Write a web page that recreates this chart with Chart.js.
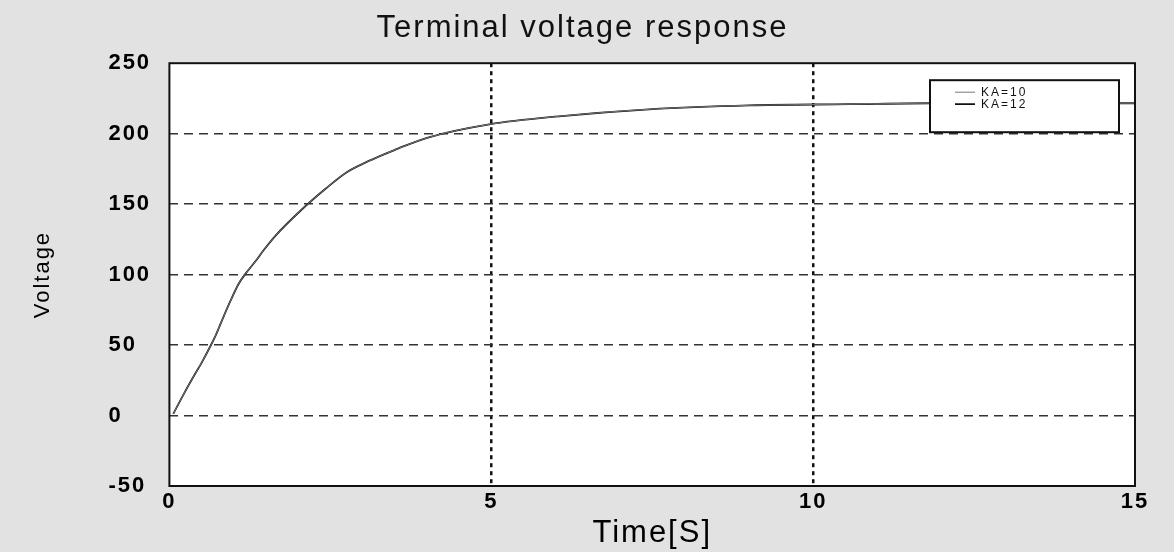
<!DOCTYPE html>
<html>
<head>
<meta charset="utf-8">
<script src="https://cdn.jsdelivr.net/npm/chart.js@4"></script>
<style>
html,body{margin:0;padding:0;background:#e2e2e2;}
canvas{display:block;}
</style>
</head>
<body>
<canvas id="c" width="1174" height="552"></canvas>
<script>
// ---- data ----
const chartTitle = 'Terminal voltage response';
const xAxisTitle = 'Time[S]';
const yAxisTitle = 'Voltage';
const seriesNames = ['KA=10', 'KA=12'];
const xTicks = [0, 5, 10, 15];
const yTicks = [-50, 0, 50, 100, 150, 200, 250];
const timeS = [0.06, 0.25, 0.40, 0.50, 0.64, 0.73, 0.84, 0.95, 1.07, 1.18, 1.34, 1.46, 1.65, 2.04, 2.43, 2.75, 3.05, 3.37, 3.56, 4.03, 4.97, 6.05, 7.45, 9.01, 10.56, 11.8, 15];
const voltageKA10 = [1.2, 17.5, 29.6, 37.4, 49.5, 58.0, 70.0, 81.5, 93.0, 100.5, 109.6, 117.1, 127.7, 145.5, 161.1, 172.5, 179.6, 186.0, 189.6, 197.4, 206.6, 212.3, 217.3, 220.1, 220.9, 221.6, 221.6];
const voltageKA12 = [1.2, 17.5, 29.6, 37.4, 49.5, 58.0, 70.0, 81.5, 93.0, 100.5, 109.6, 117.1, 127.7, 145.5, 161.1, 172.5, 179.6, 186.0, 189.6, 197.4, 206.6, 212.3, 217.3, 220.1, 220.9, 221.6, 221.6];

const FONT = '"Liberation Sans", Arial, Helvetica, sans-serif';
const toPts = ys => timeS.map((t, i) => ({x: t, y: ys[i]}));

const spacingPlugin = {
  id: 'spacing',
  beforeUpdate(chart) { chart.ctx.letterSpacing = '2px'; },
  beforeDraw(chart) { chart.ctx.letterSpacing = '2px'; }
};

const bgPlugin = {
  id: 'bg',
  beforeDraw(chart) {
    const {ctx, chartArea: a} = chart;
    ctx.save();
    ctx.fillStyle = '#e2e2e2';
    ctx.fillRect(0, 0, chart.width, chart.height);
    ctx.fillStyle = '#ffffff';
    ctx.fillRect(a.left, a.top, a.right - a.left, a.bottom - a.top);
    ctx.restore();
  }
};

const legendPlace = {
  id: 'legendPlace',
  afterLayout(chart) {
    const L = chart.legend, a = chart.chartArea;
    L.left = a.right - 180;
    L.top = a.top + 23;
    L.right = L.left + L.width;
    L.bottom = L.top + L.height;
  },
  afterDatasetsDraw(chart) {
    const {ctx, chartArea: a} = chart;
    ctx.save();
    ctx.strokeStyle = '#111';
    ctx.lineWidth = 2;
    ctx.strokeRect(a.left, a.top, a.right - a.left, a.bottom - a.top);
    const bx = a.right - 205, by = a.top + 17, bw = 189, bh = 52;
    ctx.fillStyle = '#ffffff';
    ctx.fillRect(bx, by, bw, bh);
    ctx.lineWidth = 2;
    ctx.strokeRect(bx, by, bw, bh);
    ctx.restore();
    chart.legend.draw();
  }
};

new Chart(document.getElementById('c'), {
  type: 'line',
  data: {
    datasets: [
      {label: seriesNames[0], data: toPts(voltageKA10), yAxisID: 'y', borderColor: '#777', borderWidth: 1, pointRadius: 0, cubicInterpolationMode: 'monotone', fill: false},
      {label: seriesNames[1], data: toPts(voltageKA12), yAxisID: 'y', borderColor: '#111', borderWidth: 1.8, pointRadius: 0, cubicInterpolationMode: 'monotone', fill: false}
    ]
  },
  options: {
    responsive: false,
    animation: false,
    devicePixelRatio: 1,
    layout: {padding: {left: 30, right: 39, top: 0, bottom: 0}},
    plugins: {
      title: {display: true, text: chartTitle, color: '#111', font: {family: FONT, size: 31, weight: 'normal'}, padding: {top: 10, bottom: 16}},
      legend: {
        position: 'chartArea', align: 'start',
        labels: {usePointStyle: true, pointStyle: 'line', pointStyleWidth: 20, boxWidth: 20, boxHeight: 11, padding: 0, color: '#111', font: {family: FONT, size: 12}}
      },
      tooltip: {enabled: false}
    },
    scales: {
      x: {
        type: 'linear', min: xTicks[0], max: xTicks[xTicks.length - 1],
        ticks: {stepSize: xTicks[1] - xTicks[0], color: '#000', padding: 5, maxRotation: 0, font: {family: FONT, size: 22, weight: 'bold', lineHeight: 1.0}},
        grid: {drawTicks: false, lineWidth: 2.5, color: c => (c.tick && c.tick.value > xTicks[0] && c.tick.value < xTicks[xTicks.length - 1]) ? '#111' : 'rgba(0,0,0,0)'},
        border: {display: false, dash: [4, 4]},
        title: {display: true, text: xAxisTitle, color: '#000', font: {family: FONT, size: 31, lineHeight: 1.0}, padding: {top: 0, bottom: 3}},
        afterFit(s) { s.paddingLeft = 0; s.paddingRight = 0; }
      },
      y: {
        type: 'linear', position: 'left', weight: 0, min: yTicks[0], max: yTicks[yTicks.length - 1],
        ticks: {stepSize: yTicks[1] - yTicks[0], crossAlign: 'far', color: '#000', padding: 14, font: {family: FONT, size: 22, weight: 'bold'}},
        grid: {drawTicks: false, lineWidth: 1.5, color: c => (c.tick && c.tick.value > yTicks[0] && c.tick.value < yTicks[yTicks.length - 1]) ? '#333' : 'rgba(0,0,0,0)'},
        border: {display: false, dash: [9, 6]},
        afterFit(s) { s.width = 61; }
      },
      yTitle: {
        type: 'linear', position: 'left', weight: 1, display: true,
        ticks: {display: false},
        grid: {display: false, drawTicks: false},
        border: {display: false},
        title: {display: true, text: yAxisTitle, color: '#000', font: {family: FONT, size: 22}, padding: {top: 0, bottom: 52}}
      }
    }
  },
  plugins: [spacingPlugin, bgPlugin, legendPlace]
});
</script>
</body>
</html>
